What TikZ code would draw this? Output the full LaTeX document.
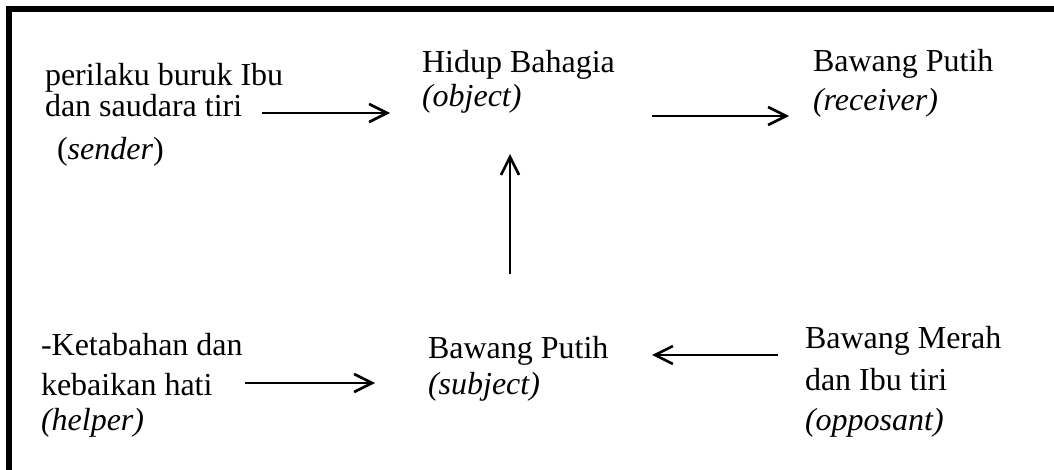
\documentclass[tikz,border=0pt]{standalone}
\usepackage{fontspec}
\setmainfont{Liberation Serif}
\usetikzlibrary{arrows.meta}
\tikzset{
  txt/.style={anchor=base west, inner sep=0pt, outer sep=0pt, font=\fontsize{16}{19}\selectfont},
  arr/.style={line width=1.35pt, -{Straight Barb[length=9pt,width=9pt,line width=1.3pt]}},
  frame/.style={line width=3pt}
}
\begin{document}
\begin{tikzpicture}[x=0.5pt,y=-0.5pt]
\useasboundingbox (0,0) rectangle (1054,470);
% frame (top and left visible)
\coordinate (ftr) at (1060,9.5);
\coordinate (ftl) at (9,9.5);
\coordinate (fbl) at (9,480);
\draw[frame] (ftr) -- (ftl) -- (fbl);
% sender
\node[txt] (s1) at (45,86) {perilaku buruk Ibu};
\node[txt] (s2) at (45,117) {dan saudara tiri};
\node[txt] (s3) at (57,160) {(\textit{sender})};
% object
\node[txt] (o1) at (422,73) {Hidup Bahagia};
\node[txt] (o2) at (422,107) {\textit{(object)}};
% receiver
\node[txt] (r1) at (813,72) {Bawang Putih};
\node[txt] (r2) at (813,111) {\textit{(receiver)}};
% helper
\node[txt] (h1) at (41,355) {-Ketabahan dan};
\node[txt] (h2) at (41,395) {kebaikan hati};
\node[txt] (h3) at (41,430) {\textit{(helper)}};
% subject
\node[txt] (u1) at (428,358) {Bawang Putih};
\node[txt] (u2) at (428,394) {\textit{(subject)}};
% opposant
\node[txt] (p1) at (805,348) {Bawang Merah};
\node[txt] (p2) at (805,390) {dan Ibu tiri};
\node[txt] (p3) at (805,430) {\textit{(opposant)}};
% arrow end points
\coordinate (a1s) at (262,113);
\coordinate (a1e) at (390,113);
\coordinate (a2s) at (652,116);
\coordinate (a2e) at (789,116);
\coordinate (a3s) at (510,274);
\coordinate (a3e) at (510,154);
\coordinate (a4s) at (245,383);
\coordinate (a4e) at (375,383);
\coordinate (a5s) at (778,355);
\coordinate (a5e) at (652,355);
\draw[arr] (a1s) -- (a1e);
\draw[arr] (a2s) -- (a2e);
\draw[arr] (a3s) -- (a3e);
\draw[arr] (a4s) -- (a4e);
\draw[arr] (a5s) -- (a5e);
\end{tikzpicture}
\end{document}
